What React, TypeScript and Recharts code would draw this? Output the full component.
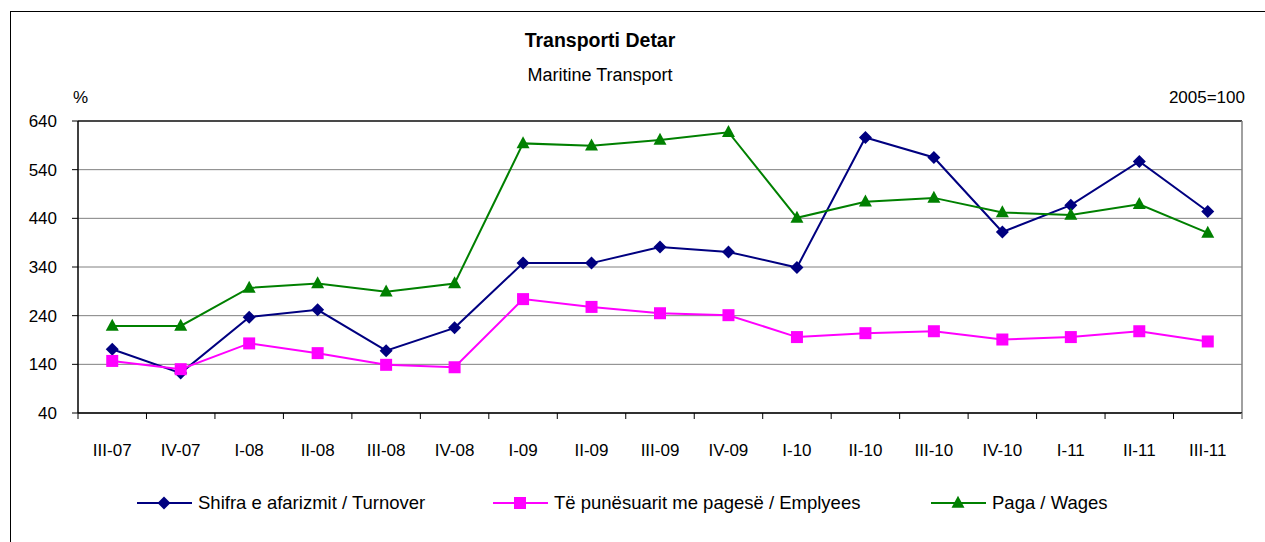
import React from "react";
import {
  LineChart,
  Line,
  XAxis,
  YAxis,
  CartesianGrid,
  ReferenceLine,
} from "recharts";

const categories = [
  "III-07", "IV-07", "I-08", "II-08", "III-08", "IV-08", "I-09", "II-09",
  "III-09", "IV-09", "I-10", "II-10", "III-10", "IV-10", "I-11", "II-11", "III-11",
];
const turnover = [171, 122, 237, 252, 168, 215, 348, 348, 381, 371, 339, 606, 565, 412, 467, 557, 454];
const employees = [147, 130, 183, 163, 139, 134, 274, 258, 245, 241, 196, 204, 208, 191, 196, 208, 187];
const wages = [219, 219, 297, 306, 289, 306, 594, 589, 601, 617, 441, 474, 482, 452, 447, 469, 410];
const yTicks = [40, 140, 240, 340, 440, 540, 640];

const seriesNames = {
  turnover: "Shifra e afarizmit / Turnover",
  employees: "Të punësuarit me pagesë / Emplyees",
  wages: "Paga / Wages",
};

const data = categories.map((c, i) => ({
  cat: c,
  turnover: turnover[i],
  employees: employees[i],
  wages: wages[i],
}));

const FONT = "'Liberation Sans', Arial, sans-serif";
const NAVY = "#000080";
const MAGENTA = "#FF00FF";
const GREEN = "#008000";

const Diamond = (props: any) => {
  const { cx, cy } = props;
  if (cx == null || cy == null) return null;
  const r = 6.5;
  return <path d={`M${cx},${cy - r}L${cx + r},${cy}L${cx},${cy + r}L${cx - r},${cy}Z`} fill={NAVY} stroke="none" />;
};
const Square = (props: any) => {
  const { cx, cy } = props;
  if (cx == null || cy == null) return null;
  const s = 12;
  return <rect x={cx - s / 2} y={cy - s / 2} width={s} height={s} fill={MAGENTA} stroke="none" />;
};
const Triangle = (props: any) => {
  const { cx, cy } = props;
  if (cx == null || cy == null) return null;
  const w = 13;
  const h = 12;
  return <path d={`M${cx},${cy - h * 0.6}L${cx + w / 2},${cy + h * 0.4}L${cx - w / 2},${cy + h * 0.4}Z`} fill={GREEN} stroke="none" />;
};

const XTick = (props: any) => {
  const { x, y, payload, index } = props;
  const off = payload && typeof payload.offset === "number" ? payload.offset : 0;
  const axisY = y - 8;
  const isLast = index === categories.length - 1;
  return (
    <g>
      <line x1={x - off} y1={axisY} x2={x - off} y2={axisY + 6} stroke="#000" strokeWidth={1} />
      {isLast && <line x1={x + off} y1={axisY} x2={x + off} y2={axisY + 6} stroke="#808080" strokeWidth={1.5} />}
      <text x={x} y={y} dy={35} textAnchor="middle" fontFamily={FONT} fontSize={17} fill="#000">
        {payload.value}
      </text>
    </g>
  );
};

const YTick = (props: any) => {
  const { x, y, payload } = props;
  return (
    <text x={x} y={y} dy={6} textAnchor="end" fontFamily={FONT} fontSize={17} fill="#000">
      {payload.value}
    </text>
  );
};

const LegendItem = ({ left, color, marker, label }: { left: number; color: string; marker: string; label: string }) => (
  <div style={{ position: "absolute", left, top: 489, height: 28, display: "flex", alignItems: "center" }}>
    <svg width={56} height={28} style={{ display: "block" }}>
      <line x1={0} y1={14} x2={55} y2={14} stroke={color} strokeWidth={2} />
      {marker === "diamond" && <Diamond cx={27} cy={14} />}
      {marker === "square" && <Square cx={27} cy={14} />}
      {marker === "triangle" && <Triangle cx={27} cy={14} />}
    </svg>
    <span style={{ marginLeft: 5, fontFamily: FONT, fontSize: 18.5, color: "#000", whiteSpace: "nowrap", lineHeight: "28px" }}>
      {label}
    </span>
  </div>
);

export default function App() {
  return (
    <div style={{ position: "absolute", left: 0, top: 0, width: 1265, height: 542, overflow: "hidden", background: "#fff" }}>
      <div style={{ position: "absolute", left: 10, top: 11, width: 1400, height: 700, border: "1px solid #000", boxSizing: "border-box" }} />
      <div style={{ position: "absolute", left: 0, width: 1200, top: 28, textAlign: "center", fontFamily: FONT, fontWeight: "bold", fontSize: 19.5, lineHeight: "24px" }}>
        Transporti Detar
      </div>
      <div style={{ position: "absolute", left: 0, width: 1200, top: 63, textAlign: "center", fontFamily: FONT, fontSize: 18, lineHeight: "24px" }}>
        Maritine Transport
      </div>
      <div style={{ position: "absolute", left: 73, top: 87, fontFamily: FONT, fontSize: 17, lineHeight: "22px" }}>%</div>
      <div style={{ position: "absolute", right: 1265 - 1245, top: 87, fontFamily: FONT, fontSize: 17, lineHeight: "22px" }}>2005=100</div>

      <div style={{ position: "absolute", left: 0, top: 0 }}>
        <LineChart width={1265} height={542} data={data} margin={{ top: 121, right: 23, bottom: 0, left: 18 }}>
          <CartesianGrid vertical={false} stroke="#808080" strokeWidth={1} />
          <XAxis
            dataKey="cat"
            scale="band"
            tick={<XTick />}
            tickLine={false}
            axisLine={{ stroke: "#000", strokeWidth: 1.5 }}
            height={129}
            interval={0}
          />
          <YAxis
            domain={[40, 640]}
            ticks={yTicks}
            tick={<YTick />}
            tickLine={{ stroke: "#000" }}
            tickSize={6}
            tickMargin={15}
            axisLine={{ stroke: "#000", strokeWidth: 1.5 }}
            width={60}
            interval={0}
          />
          <ReferenceLine y={640} stroke="#222" strokeWidth={1.5} />
          <ReferenceLine x={categories[categories.length - 1]} position="end" stroke="#808080" strokeWidth={1.5} />
          <Line dataKey="turnover" name={seriesNames.turnover} stroke={NAVY} strokeWidth={2} dot={<Diamond />} activeDot={false} isAnimationActive={false} />
          <Line dataKey="employees" name={seriesNames.employees} stroke={MAGENTA} strokeWidth={2} dot={<Square />} activeDot={false} isAnimationActive={false} />
          <Line dataKey="wages" name={seriesNames.wages} stroke={GREEN} strokeWidth={2} dot={<Triangle />} activeDot={false} isAnimationActive={false} />
        </LineChart>
      </div>

      <LegendItem left={137} color={NAVY} marker="diamond" label={seriesNames.turnover} />
      <LegendItem left={493} color={MAGENTA} marker="square" label={seriesNames.employees} />
      <LegendItem left={931} color={GREEN} marker="triangle" label={seriesNames.wages} />
    </div>
  );
}
